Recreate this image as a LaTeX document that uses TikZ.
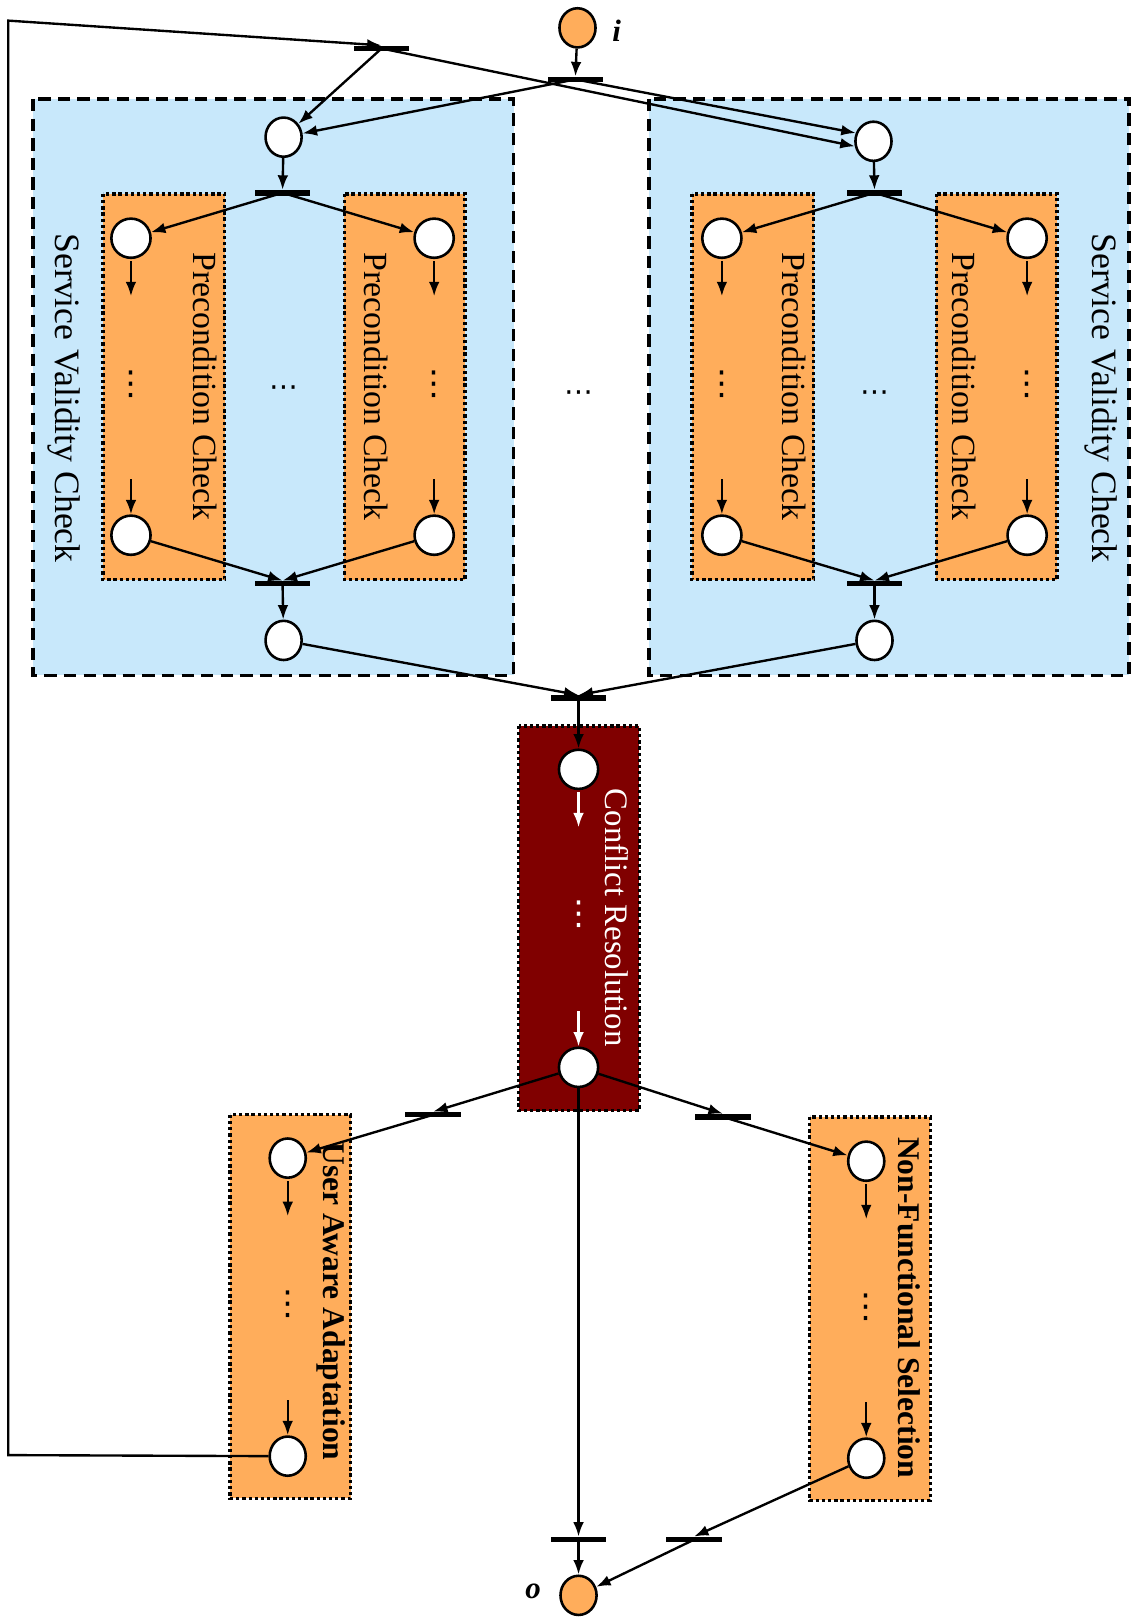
\documentclass[tikz,border=0pt]{standalone}
\usepackage{fontspec}
\setmainfont{Liberation Serif}
\newfontfamily\ellipsisfont{DejaVu Sans}
\usetikzlibrary{shapes.geometric,arrows.meta}
\definecolor{svcblue}{HTML}{C8E8FB}
\definecolor{stageorange}{HTML}{FFAD5B}
\definecolor{crred}{HTML}{800000}

% one stage column: top place, arrow, dots, arrow, bottom place
% #1 prefix, #2 x, #3 y top, #4 y dots, #5 y bottom, #6 place style, #7 arrow style, #8 dots colour
\newcommand{\stagecol}[8]{%
  \node[#6] (#1a) at (#2,#3) {};
  \node[#6] (#1b) at (#2,#5) {};
  \node[vdotsym,text=#8] (#1d) at (#2,#4) {⋮};
  \draw[#7] ([yshift=-1pt]#1a.south) -- ++(0,34);
  \draw[#7] ([yshift=17pt]#1b.north) -- (#1b.north);
}

\begin{document}
\begin{tikzpicture}[x=0.5pt,y=-0.5pt,
  place/.style={ellipse,draw,line width=1.25pt,fill=white,minimum width=17.5pt,minimum height=19pt,inner sep=0pt},
  rplace/.style={circle,draw,line width=1.25pt,fill=white,minimum size=19pt,inner sep=0pt},
  endplace/.style={place,fill=stageorange},
  trans/.style={rectangle,fill=black,minimum width=27pt,minimum height=2.6pt,inner sep=0pt},
  arc/.style={-{Latex[length=7pt,width=5.2pt]},line width=1.15pt},
  warc/.style={arc,white},
  svcbox/.style={fill=svcblue,draw=black,line width=1.8pt,dash pattern=on 6pt off 3.5pt},
  pcbox/.style={fill=stageorange,draw=black,line width=1.6pt,dash pattern=on 1.6pt off 1.4pt},
  crbox/.style={fill=crred,draw=black,line width=1.6pt,dash pattern=on 1.6pt off 1.4pt},
  vlabel/.style={rotate=-90,inner sep=0pt},
  vdotsym/.style={inner sep=0pt,font=\ellipsisfont\fontsize{16}{16}\selectfont},
  hdotsym/.style={inner sep=0pt,font=\ellipsisfont\fontsize{14}{14}\selectfont},
  pclabel/.style={vlabel,font=\fontsize{16.4}{16.4}\selectfont},
  svclabel/.style={vlabel,font=\fontsize{17.3}{17.3}\selectfont},
  stagelabel/.style={vlabel,font=\bfseries\fontsize{15.3}{15.3}\selectfont}
]
\useasboundingbox (0,0) rectangle (1098,1568);

% service validity check areas
\path[svcbox] (32,96) rectangle (498,655);
\path[svcbox] (629,96) rectangle (1095,655);

% precondition check areas
\path[pcbox] (100,188) rectangle (218,562);
\path[pcbox] (334,188) rectangle (451,562);
\path[pcbox] (671,188) rectangle (789,562);
\path[pcbox] (908,188) rectangle (1025,562);

% conflict resolution area
\draw[white,line width=1.6pt] (503,704) rectangle (620,1077);
\path[crbox] (503,704) rectangle (620,1077);

% adaptation and selection areas
\path[pcbox] (223,1081) rectangle (340,1453);
\path[pcbox] (785,1083) rectangle (902,1455);

% area labels
\node[svclabel] (svcl) at (62,386) {Service Validity Check};
\node[svclabel] (svcr) at (1068,386) {Service Validity Check};
\node[pclabel] (pcl1) at (199,375) {Precondition Check};
\node[pclabel] (pcl2) at (365,375) {Precondition Check};
\node[pclabel] (pcl3) at (770,375) {Precondition Check};
\node[pclabel] (pcl4) at (935,375) {Precondition Check};
\node[vlabel,text=white,font=\fontsize{15.9}{15.9}\selectfont] (crl) at (598,890) {Conflict Resolution};
\node[stagelabel] (ual) at (321,1262) {User Aware Adaptation};
\node[stagelabel] (nfl) at (882,1268) {Non-Functional Selection};

% horizontal ellipses
\node[hdotsym] (hd1) at (275,379) {⋯};
\node[hdotsym] (hd2) at (561,384) {⋯};
\node[hdotsym] (hd3) at (848,384) {⋯};

% input place and first transitions
\node[endplace] (pin) at (560,27) {};
\node[font=\bfseries\itshape\fontsize{15}{15}\selectfont] (lin) at (598,30) {i};
\node[trans] (t0) at (558,77) {};
\node[trans] (tq) at (370,47) {};
\coordinate (loopTop) at (8,20);
\coordinate (loopBot) at (8,1411);

% left service validity check
\node[place] (l1) at (275,133) {};
\node[trans] (l2) at (274,187) {};
\stagecol{pa}{127}{231}{373}{519}{rplace}{arc}{black}
\stagecol{pb}{421}{231}{373}{519}{rplace}{arc}{black}
\node[trans] (l3) at (274,566) {};
\node[place] (l4) at (275,621) {};

% right service validity check
\node[place] (r1) at (847,137) {};
\node[trans] (r2) at (848,187) {};
\stagecol{pc}{700}{231}{373}{519}{rplace}{arc}{black}
\stagecol{pd}{996}{231}{373}{519}{rplace}{arc}{black}
\node[trans] (r3) at (848,566) {};
\node[place] (r4) at (848,621) {};

% merge and conflict resolution
\node[trans] (tm) at (561,677) {};
\stagecol{c}{561}{746}{887}{1035}{rplace}{warc}{white}

% branches after conflict resolution
\node[trans] (tl) at (420,1081) {};
\node[trans] (tr) at (701,1083) {};
\node[trans] (tb) at (561,1493) {};
\node[trans] (tn) at (673,1493) {};
\stagecol{u}{279}{1123}{1265}{1412}{place}{arc}{black}
\stagecol{n}{840}{1126}{1268}{1414}{place}{arc}{black}

% output place
\node[endplace] (pout) at (561,1547) {};
\node[font=\bfseries\itshape\fontsize{15}{15}\selectfont] (lout) at (517,1543) {o};

% arcs
\draw[arc] (pin) -- (t0.north);
\draw[arc] (ub.west) -- (loopBot) -- (loopTop) -- (tq.north);
\draw[arc] (t0.center) -- (l1);
\draw[arc] (t0.center) -- (r1.155);
\draw[arc] (tq.center) -- (l1);
\draw[arc] (tq.center) -- (r1.195);

\draw[arc] (l1) -- (l2.north);
\draw[arc] (l2.center) -- (paa);
\draw[arc] (l2.center) -- (pba);
\draw[arc] (pab) -- (l3.north);
\draw[arc] (pbb) -- (l3.north);
\draw[arc] (l3.center) -- (l4);

\draw[arc] (r1) -- (r2.north);
\draw[arc] (r2.center) -- (pca);
\draw[arc] (r2.center) -- (pda);
\draw[arc] (pcb) -- (r3.north);
\draw[arc] (pdb) -- (r3.north);
\draw[arc] (r3.center) -- (r4);

\draw[arc] (l4) -- (tm.north);
\draw[arc] (r4) -- (tm.north);
\draw[arc] (tm.center) -- (ca);

\draw[arc] (cb) -- (tl.north);
\draw[arc] (tl.center) -- (ua);
\draw[arc] (cb) -- (tr.north);
\draw[arc] (tr.center) -- (na);
\draw[arc] (cb) -- (tb.north);
\draw[arc] (tb.center) -- (pout);
\draw[arc] (nb) -- (tn.north);
\draw[arc] (tn.center) -- (pout);
\end{tikzpicture}
\end{document}
